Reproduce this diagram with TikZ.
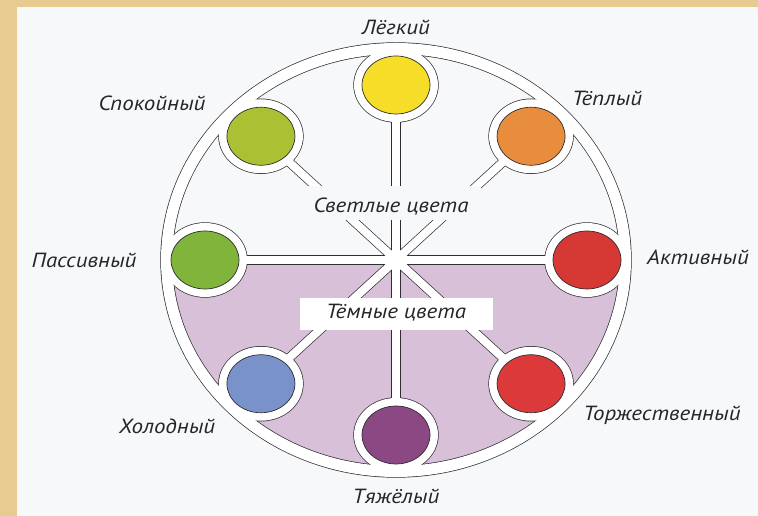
\documentclass[tikz,border=0pt]{standalone}
\usepackage{fontspec}
\setmainfont{PT Sans}
\newfontfamily\labfont[FakeStretch=1.12]{PT Sans Italic}
\usetikzlibrary{calc}
\definecolor{gold}{RGB}{232,203,145}
\definecolor{paper}{RGB}{246,248,250}
\definecolor{darkhalf}{RGB}{216,192,216}
\definecolor{ol}{RGB}{45,45,50}
\definecolor{cyellow}{RGB}{246,222,40}
\definecolor{corange}{RGB}{232,140,62}
\definecolor{cygreen}{RGB}{172,192,52}
\definecolor{cgreen}{RGB}{128,180,58}
\definecolor{cred}{RGB}{214,56,52}
\definecolor{cred2}{RGB}{220,58,58}
\definecolor{cblue}{RGB}{122,146,202}
\definecolor{cpurple}{RGB}{140,72,130}
\begin{document}
\begin{tikzpicture}[x=1pt,y=1pt,
  lab/.style={font=\labfont\fontsize{20.5}{24}\selectfont, text=black!85, inner sep=0pt},
  disc/.style={draw=ol, line width=0.7pt}]
\useasboundingbox (0,0) rectangle (758,516);
\fill[gold] (0,0) rectangle (758,516);
\fill[paper] (17,0) rectangle (758,509);
\coordinate (C) at (396,256);
% disc centres
\coordinate (pT) at ($(C)+(90:191 and 175)$);
\coordinate (pTR) at ($(C)+(45:191 and 175)$);
\coordinate (pR) at ($(C)+(0:191 and 175)$);
\coordinate (pBR) at ($(C)+(-45:191 and 175)$);
\coordinate (pB) at ($(C)+(-90:191 and 175)$);
\coordinate (pBL) at ($(C)+(-135:191 and 175)$);
\coordinate (pL) at ($(C)+(180:191 and 175)$);
\coordinate (pTL) at ($(C)+(135:191 and 175)$);
% dark half
\begin{scope}
\clip (C) ellipse (229.5 and 211.5);
\fill[darkhalf] (150,0) rectangle (650,256);
\end{scope}
% outlines of the white frame
\draw[ol, line width=12.4pt] (C) ellipse (229.5 and 211.5);
\foreach \p in {pT,pTR,pR,pBR,pB,pBL,pL,pTL}{
  \fill[ol] (\p) ellipse (42.7 and 37.7);
  \draw[ol, line width=9.4pt] (C) -- (\p);
}
% white frame
\draw[white, line width=11pt] (C) ellipse (229.5 and 211.5);
\foreach \p in {pT,pTR,pR,pBR,pB,pBL,pL,pTL}{
  \fill[white] (\p) ellipse (42 and 37);
  \draw[white, line width=8pt] (C) -- (\p);
}
% discs
\filldraw[disc, fill=cyellow] (pT) ellipse (34 and 29);
\filldraw[disc, fill=corange] (pTR) ellipse (34 and 29);
\filldraw[disc, fill=cred] (pR) ellipse (34 and 29);
\filldraw[disc, fill=cred2] (pBR) ellipse (34 and 29);
\filldraw[disc, fill=cpurple] (pB) ellipse (34 and 29);
\filldraw[disc, fill=cblue] (pBL) ellipse (34 and 29);
\filldraw[disc, fill=cgreen] (pL) ellipse (34 and 29);
\filldraw[disc, fill=cygreen] (pTL) ellipse (34 and 29);
% centre labels
\node[fill=paper, minimum width=175pt, minimum height=34pt, inner sep=0pt] (light) at (393,313) {};
\node[lab] (lighttxt) at (391,309) {Светлые цвета};
\node[fill=white, minimum width=193pt, minimum height=32pt, inner sep=0pt] (dark) at (396,202) {};
\node[lab] (darktxt) at (396,203) {Тёмные цвета};
% outer labels
\node[lab] (l1) at (396,489) {Лёгкий};
\node[lab] (l2) at (607,418) {Тёплый};
\node[lab] (l3) at (152,413) {Спокойный};
\node[lab] (l4) at (84,256) {Пассивный};
\node[lab] (l5) at (698,259) {Активный};
\node[lab] (l6) at (662,101) {Торжественный};
\node[lab] (l7) at (396,20) {Тяжёлый};
\node[lab] (l8) at (167,90) {Холодный};
\end{tikzpicture}
\end{document}
